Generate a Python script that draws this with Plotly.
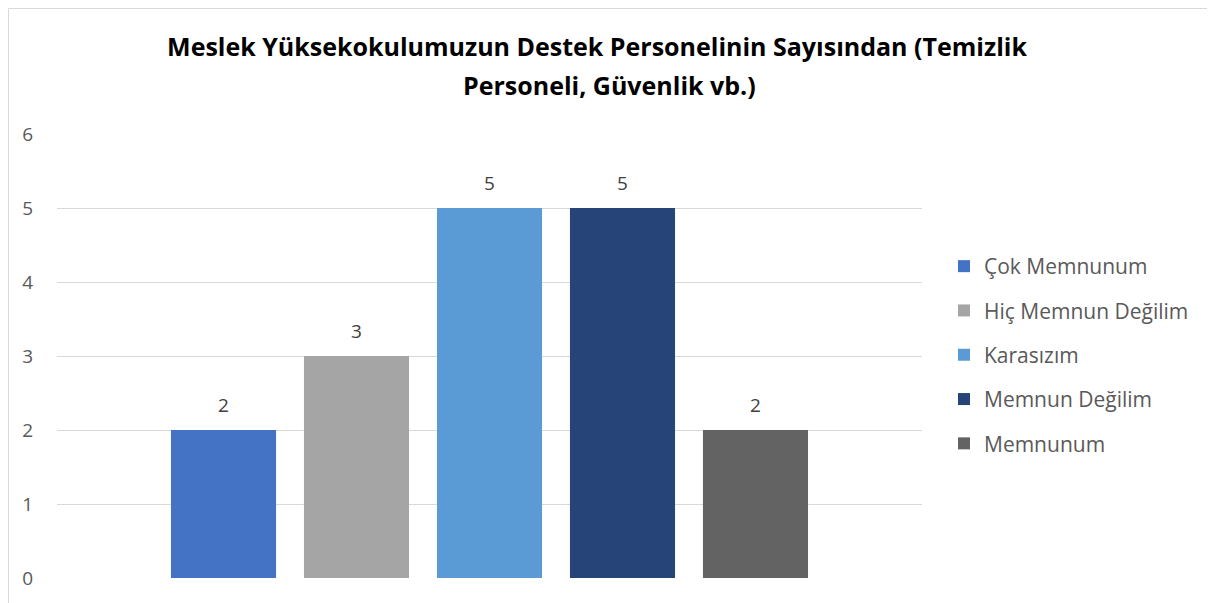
import plotly.graph_objects as go

categories = ["Çok Memnunum", "Hiç Memnun Değilim", "Karasızım", "Memnun Değilim", "Memnunum"]
values = [2, 3, 5, 5, 2]
colors = ["#4472C4", "#A5A5A5", "#5B9BD5", "#264478", "#636363"]
y_ticks = [0, 1, 2, 3, 4, 5, 6]
title_line1 = "Meslek Yüksekokulumuzun Destek Personelinin Sayısından (Temizlik"
title_line2 = "Personeli, Güvenlik vb.)"

# page body has an 8px margin; figure coordinates are offset by 8px
W, H = 1207, 595
L, R, T, B = 49, 293, 126, 25
PW, PH = W - L - R, H - T - B  # 865 x 444
title_font = dict(family="Open Sans", size=25, color="#000000", weight="bold")

fig = go.Figure()
for i, (name, val, col) in enumerate(zip(categories, values, colors)):
    fig.add_trace(go.Bar(
        x=[i], y=[val], name=name, marker=dict(color=col, line=dict(width=0)),
        width=0.79, legendgroup=name, showlegend=True, hoverinfo="skip",
    ))
    fig.add_annotation(x=i, y=val, text=str(val), showarrow=False, yshift=25,
                       font=dict(family="Open Sans", size=19, color="#404040"))

fig.add_annotation(text=title_line2, xref="paper", yref="paper",
                   x=(609 - 8 - L) / PW, y=(570 - 77) / PH, xanchor="center", yanchor="middle",
                   showarrow=False, font=title_font)

fig.update_layout(
    width=W, height=H,
    margin=dict(l=L, r=R, t=T, b=B, autoexpand=False),
    paper_bgcolor="white", plot_bgcolor="white",
    barmode="overlay",
    title=dict(text=title_line1, x=(597 - 8) / W, xref="container", xanchor="center",
               y=1 - 39 / H, yref="container", yanchor="middle",
               font=title_font),
    xaxis=dict(range=[-1.252, 5.252], showticklabels=False, showgrid=False,
               zeroline=False, showline=False, fixedrange=True),
    yaxis=dict(range=[0, 6], tickvals=y_ticks, showgrid=True, gridcolor="#D9D9D9",
               gridwidth=1, zeroline=False, showline=False, ticks="",
               ticklabelstandoff=23,
               tickfont=dict(family="Open Sans", size=19, color="#595959")),
    legend=dict(x=(936 - L) / PW, xanchor="left", y=(570 - 238) / PH, yanchor="top",
                font=dict(family="Open Sans", size=21, color="#595959"),
                tracegroupgap=14, itemwidth=30, bgcolor="rgba(0,0,0,0)"),
    shapes=[dict(type="rect", xref="paper", yref="paper",
                 x0=(0.5 - L) / PW, x1=(1205 - L) / PW, y0=-0.2, y1=(570 - 0.5) / PH,
                 line=dict(color="#D9D9D9", width=1), fillcolor="rgba(0,0,0,0)", layer="below")],
)

fig.write_html("out.html")
